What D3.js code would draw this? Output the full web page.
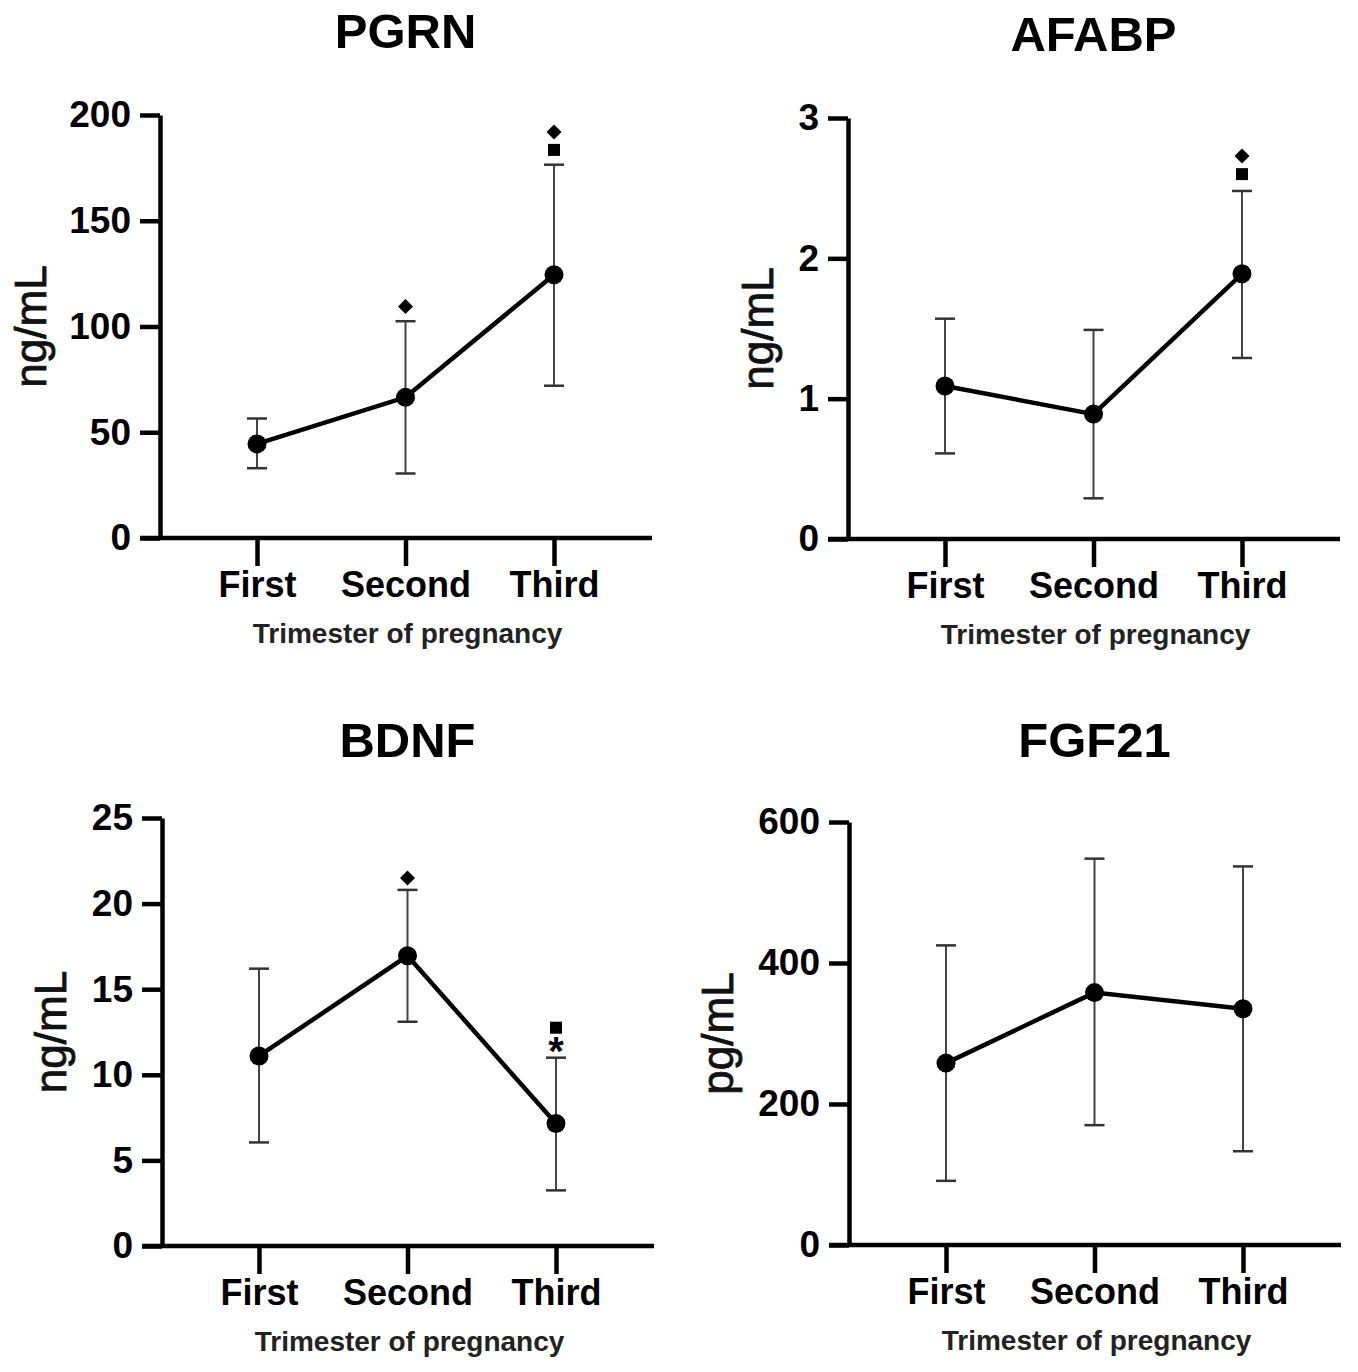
<!DOCTYPE html>
<meta charset="utf-8">
<script src="https://cdn.jsdelivr.net/npm/d3@7"></script>
<style>
  body { margin: 0; background: #fff; }
  text { font-family: "Liberation Sans", Arial, sans-serif; }
</style>
<div id="chart"></div>
<script>

// categories on the x axis
var categories = ["First", "Second", "Third"];

// PGRN (ng/mL)
var pgrnMean  = [44.5, 66.5, 124.5];
var pgrnUpper = [56.5, 102.5, 176.5];
var pgrnLower = [33, 30.5, 72];
var pgrnTicks = [0, 50, 100, 150, 200];
var pgrnMarks = [
  {cat: "Second", sym: "diamond", v: 109.5},
  {cat: "Third",  sym: "square",  v: 183.5},
  {cat: "Third",  sym: "diamond", v: 192}
];

// AFABP (ng/mL)
var afabpMean  = [1.09, 0.89, 1.89];
var afabpUpper = [1.57, 1.49, 2.48];
var afabpLower = [0.61, 0.29, 1.29];
var afabpTicks = [0, 1, 2, 3];
var afabpMarks = [
  {cat: "Third", sym: "square",  v: 2.6},
  {cat: "Third", sym: "diamond", v: 2.73}
];

// BDNF (ng/mL)
var bdnfMean  = [11.1, 16.95, 7.15];
var bdnfUpper = [16.2, 20.8, 11.0];
var bdnfLower = [6.05, 13.1, 3.25];
var bdnfTicks = [0, 5, 10, 15, 20, 25];
var bdnfMarks = [
  {cat: "Second", sym: "diamond",  v: 21.5},
  {cat: "Third",  sym: "asterisk", v: 11.6},
  {cat: "Third",  sym: "square",   v: 12.75}
];

// FGF21 (pg/mL)
var fgfMean  = [258, 358, 335];
var fgfUpper = [425, 548, 537];
var fgfLower = [91, 170, 133];
var fgfTicks = [0, 200, 400, 600];
var fgfMarks = [];

var svg = d3.select("#chart")
  .append("svg")
    .attr("width", 1358)
    .attr("height", 1372);

// one panel: ax = x of y axis, y0 = pixel of zero, yTop = pixel of max
function panel(opt) {
  var g = svg.append("g");

  var x = d3.scalePoint()
    .domain(categories)
    .range([opt.ax + 97, opt.ax + 394]);

  var y = d3.scaleLinear()
    .domain([0, d3.max(opt.ticks)])
    .range([opt.y0, opt.yTop]);

  // y axis
  var yAxis = g.append("g")
    .attr("transform", "translate(" + opt.ax + ",0)")
    .call(d3.axisLeft(y).tickValues(opt.ticks).tickFormat(d3.format("d"))
      .tickSize(20).tickPadding(9).tickSizeOuter(0));
  yAxis.select(".domain").attr("stroke-width", 4.5);
  yAxis.selectAll(".tick line").attr("stroke-width", 4.5);
  yAxis.selectAll(".tick text")
    .attr("font-size", 37)
    .attr("font-weight", "bold")
    .attr("fill", "#000");

  // x axis
  var xAxis = g.append("g")
    .attr("transform", "translate(0," + opt.y0 + ")")
    .call(d3.axisBottom(x).tickSize(28).tickPadding(5).tickSizeOuter(0));
  xAxis.select(".domain").remove();
  xAxis.selectAll(".tick line").attr("stroke-width", 4.5);
  xAxis.selectAll(".tick text")
    .attr("font-size", 36)
    .attr("font-weight", "bold")
    .attr("fill", "#000");

  g.append("line")
    .attr("x1", opt.ax - 20)
    .attr("x2", opt.ax + 492)
    .attr("y1", opt.y0)
    .attr("y2", opt.y0)
    .attr("stroke", "#000")
    .attr("stroke-width", 4.5);

  // error bars
  var eb = g.selectAll(".err")
    .data(categories)
    .enter()
    .append("g");
  eb.append("line")
    .attr("x1", function(d) { return x(d); })
    .attr("x2", function(d) { return x(d); })
    .attr("y1", function(d, i) { return y(opt.upper[i]); })
    .attr("y2", function(d, i) { return y(opt.lower[i]); })
    .attr("stroke", "#444")
    .attr("stroke-width", 2);
  [opt.upper, opt.lower].forEach(function(arr) {
    eb.append("line")
      .attr("x1", function(d) { return x(d) - 10; })
      .attr("x2", function(d) { return x(d) + 10; })
      .attr("y1", function(d, i) { return y(arr[i]); })
      .attr("y2", function(d, i) { return y(arr[i]); })
      .attr("stroke", "#333")
      .attr("stroke-width", 2.5);
  });

  // mean line
  var line = d3.line()
    .x(function(d, i) { return x(categories[i]); })
    .y(function(d) { return y(d); });
  g.append("path")
    .datum(opt.mean)
    .attr("d", line)
    .attr("fill", "none")
    .attr("stroke", "#000")
    .attr("stroke-width", 4.5);

  g.selectAll(".pt")
    .data(opt.mean)
    .enter()
    .append("circle")
      .attr("cx", function(d, i) { return x(categories[i]); })
      .attr("cy", function(d) { return y(d); })
      .attr("r", 9.5)
      .attr("fill", "#000");

  // significance marks
  opt.marks.forEach(function(m) {
    var cx = x(m.cat), cy = y(m.v);
    if (m.sym == "diamond") {
      g.append("path")
        .attr("d", "M" + cx + "," + (cy - 7.5) + "L" + (cx + 7.5) + "," + cy +
                   "L" + cx + "," + (cy + 7.5) + "L" + (cx - 7.5) + "," + cy + "Z")
        .attr("fill", "#000");
    } else if (m.sym == "square") {
      g.append("rect")
        .attr("x", cx - 6).attr("y", cy - 6)
        .attr("width", 12).attr("height", 12)
        .attr("fill", "#000");
    } else {
      g.append("text")
        .attr("x", cx).attr("y", cy + 18)
        .attr("text-anchor", "middle")
        .attr("font-size", 40)
        .attr("font-weight", "bold")
        .text("*");
    }
  });

  // titles
  g.append("text")
    .attr("x", x("Second"))
    .attr("y", opt.titleY)
    .attr("text-anchor", "middle")
    .attr("font-size", 49)
    .attr("font-weight", "bold")
    .text(opt.title);

  g.append("text")
    .attr("x", x("Second") + 2)
    .attr("y", opt.y0 + 105)
    .attr("text-anchor", "middle")
    .attr("font-size", 28)
    .attr("font-weight", "bold")
    .attr("fill", "#222")
    .text("Trimester of pregnancy");

  g.append("text")
    .attr("transform", "translate(" + opt.labelX + "," + ((opt.y0 + opt.yTop) / 2) + ")rotate(-90)")
    .attr("text-anchor", "middle")
    .attr("font-size", 44)
    .attr("fill", "#111")
    .attr("stroke", "#111")
    .attr("stroke-width", 0.8)
    .text(opt.unit);
}

panel({title: "PGRN", unit: "ng/mL", ax: 160, y0: 538, yTop: 115, titleY: 48, labelX: 46,
       mean: pgrnMean, upper: pgrnUpper, lower: pgrnLower, ticks: pgrnTicks, marks: pgrnMarks});
panel({title: "AFABP", unit: "ng/mL", ax: 848, y0: 539, yTop: 118, titleY: 51, labelX: 773,
       mean: afabpMean, upper: afabpUpper, lower: afabpLower, ticks: afabpTicks, marks: afabpMarks});
panel({title: "BDNF", unit: "ng/mL", ax: 162, y0: 1246, yTop: 818, titleY: 757, labelX: 66,
       mean: bdnfMean, upper: bdnfUpper, lower: bdnfLower, ticks: bdnfTicks, marks: bdnfMarks});
panel({title: "FGF21", unit: "pg/mL", ax: 849, y0: 1245, yTop: 822, titleY: 757, labelX: 733,
       mean: fgfMean, upper: fgfUpper, lower: fgfLower, ticks: fgfTicks, marks: fgfMarks});

</script>
